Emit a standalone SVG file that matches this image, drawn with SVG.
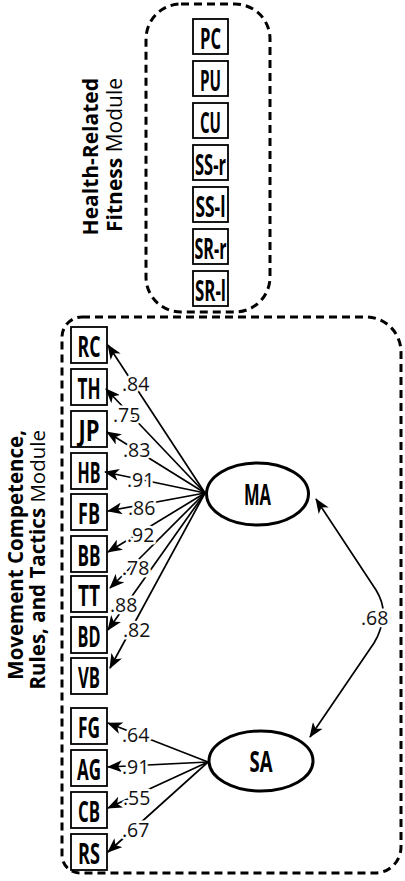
<svg xmlns="http://www.w3.org/2000/svg" width="405" height="881" viewBox="0 0 405 881">
<defs>
<marker id="ah" markerWidth="15" markerHeight="12" refX="14" refY="6" orient="auto-start-reverse" markerUnits="userSpaceOnUse"><path d="M0,0 L15,6 L0,12 L4,6 z" fill="#000"/></marker>
<style>
.module{fill:none;stroke:#000;stroke-width:3;stroke-dasharray:8 5}
.box{fill:#fff;stroke:#000;stroke-width:1.8}
.lat{fill:#fff;stroke:#000;stroke-width:3}
.bl{font-family:"Open Sans","DejaVu Sans",sans-serif;font-weight:bold;font-size:29px;text-anchor:middle;fill:#000}
.ml{font-family:"Open Sans","DejaVu Sans",sans-serif;font-size:21px;fill:#000;text-anchor:end}
.ms{font-size:20.5px}
.b{font-weight:bold}
.c{fill:none;stroke:#000;stroke-width:1.7;marker-end:url(#ah)}
.lb{font-family:"Open Sans","DejaVu Sans",sans-serif;font-size:19.5px;fill:#111;stroke:#fff;stroke-width:5;paint-order:stroke;stroke-linejoin:round}
</style>
</defs>
<rect width="405" height="881" fill="#fff"/>

<g id="health-module">
<rect class="module" x="146" y="4" width="124" height="308" rx="35"/>
<text class="ml" transform="translate(98,78) rotate(-90)"><tspan class="b">Health-Related</tspan></text>
<text class="ml" transform="translate(122,78) rotate(-90)"><tspan class="b">Fitness</tspan> Module</text>
</g>

<g id="movement-module">
<path class="module" d="M82,317 H366 A35,35 0 0 1 401,352 V847 A26,26 0 0 1 375,873 H80 A18,18 0 0 1 62,855 V337 A20,20 0 0 1 82,317 Z"/>
<text class="ml ms" transform="translate(22.5,430) rotate(-90)"><tspan class="b">Movement Competence,</tspan></text>
<text class="ml ms" transform="translate(44.5,430) rotate(-90)"><tspan class="b">Rules, and Tactics</tspan> Module</text>
</g>

<g id="PC"><rect class="box" x="193" y="19" width="35" height="35"/><text class="bl" x="210.5" y="49" textLength="21" lengthAdjust="spacingAndGlyphs">PC</text></g>
<g id="PU"><rect class="box" x="193" y="61" width="35" height="35"/><text class="bl" x="210.5" y="91" textLength="21" lengthAdjust="spacingAndGlyphs">PU</text></g>
<g id="CU"><rect class="box" x="193" y="103" width="35" height="35"/><text class="bl" x="210.5" y="133" textLength="21" lengthAdjust="spacingAndGlyphs">CU</text></g>
<g id="SS-r"><rect class="box" x="193" y="145" width="35" height="35"/><text class="bl" x="210.5" y="175" textLength="31" lengthAdjust="spacingAndGlyphs">SS-r</text></g>
<g id="SS-l"><rect class="box" x="193" y="187" width="35" height="35"/><text class="bl" x="210.5" y="217" textLength="30" lengthAdjust="spacingAndGlyphs">SS-l</text></g>
<g id="SR-r"><rect class="box" x="193" y="229" width="35" height="35"/><text class="bl" x="210.5" y="259" textLength="32" lengthAdjust="spacingAndGlyphs">SR-r</text></g>
<g id="SR-l"><rect class="box" x="193" y="271" width="35" height="35"/><text class="bl" x="210.5" y="301" textLength="31" lengthAdjust="spacingAndGlyphs">SR-l</text></g>

<g id="RC"><rect class="box" x="71" y="327" width="36" height="36"/><text class="bl" x="89" y="357" textLength="23" lengthAdjust="spacingAndGlyphs">RC</text></g>
<g id="TH"><rect class="box" x="71" y="369" width="36" height="36"/><text class="bl" x="89" y="399" textLength="23" lengthAdjust="spacingAndGlyphs">TH</text></g>
<g id="JP"><rect class="box" x="71" y="411" width="36" height="36"/><text class="bl" x="89" y="441" textLength="21" lengthAdjust="spacingAndGlyphs">JP</text></g>
<g id="HB"><rect class="box" x="71" y="453" width="36" height="36"/><text class="bl" x="89" y="483" textLength="23" lengthAdjust="spacingAndGlyphs">HB</text></g>
<g id="FB"><rect class="box" x="71" y="494" width="36" height="36"/><text class="bl" x="89" y="524" textLength="22" lengthAdjust="spacingAndGlyphs">FB</text></g>
<g id="BB"><rect class="box" x="71" y="536" width="36" height="36"/><text class="bl" x="89" y="566" textLength="23" lengthAdjust="spacingAndGlyphs">BB</text></g>
<g id="TT"><rect class="box" x="71" y="576" width="36" height="36"/><text class="bl" x="89" y="606" textLength="22" lengthAdjust="spacingAndGlyphs">TT</text></g>
<g id="BD"><rect class="box" x="71" y="617" width="36" height="36"/><text class="bl" x="89" y="647" textLength="23" lengthAdjust="spacingAndGlyphs">BD</text></g>
<g id="VB"><rect class="box" x="71" y="658" width="36" height="36"/><text class="bl" x="89" y="688" textLength="22" lengthAdjust="spacingAndGlyphs">VB</text></g>
<g id="FG"><rect class="box" x="71" y="708" width="36" height="36"/><text class="bl" x="89" y="738" textLength="22" lengthAdjust="spacingAndGlyphs">FG</text></g>
<g id="AG"><rect class="box" x="71" y="750" width="36" height="36"/><text class="bl" x="89" y="780" textLength="24" lengthAdjust="spacingAndGlyphs">AG</text></g>
<g id="CB"><rect class="box" x="71" y="792" width="36" height="36"/><text class="bl" x="89" y="822" textLength="22" lengthAdjust="spacingAndGlyphs">CB</text></g>
<g id="RS"><rect class="box" x="71" y="834" width="36" height="36"/><text class="bl" x="89" y="864" textLength="22" lengthAdjust="spacingAndGlyphs">RS</text></g>

<g id="connectors">
<line class="c" x1="205" y1="493" x2="108" y2="345"/>
<line class="c" x1="205" y1="493" x2="106" y2="389"/>
<line class="c" x1="205" y1="493" x2="107" y2="432"/>
<line class="c" x1="205" y1="493" x2="105" y2="472"/>
<line class="c" x1="205" y1="493" x2="108" y2="511"/>
<line class="c" x1="205" y1="493" x2="108" y2="552"/>
<line class="c" x1="205" y1="493" x2="110" y2="588"/>
<line class="c" x1="205" y1="493" x2="108" y2="630"/>
<line class="c" x1="205" y1="493" x2="110" y2="668"/>
<line class="c" x1="208" y1="762" x2="108" y2="723"/>
<line class="c" x1="208" y1="762" x2="108" y2="767"/>
<line class="c" x1="208" y1="762" x2="108" y2="808"/>
<line class="c" x1="208" y1="762" x2="108" y2="852"/>
<path class="c" style="marker-start:url(#ah)" d="M316,499 L376,590 Q384,603 383,615 Q382,630 374,643 L310,737"/>
<text class="lb" x="122" y="391">.84</text>
<text class="lb" x="113" y="422">.75</text>
<text class="lb" x="123" y="457">.83</text>
<text class="lb" x="127" y="487">.91</text>
<text class="lb" x="128" y="515">.86</text>
<text class="lb" x="127" y="542">.92</text>
<text class="lb" x="122" y="575">.78</text>
<text class="lb" x="110" y="612">.88</text>
<text class="lb" x="123" y="637">.82</text>
<text class="lb" x="122" y="742">.64</text>
<text class="lb" x="122" y="774">.91</text>
<text class="lb" x="123" y="805">.55</text>
<text class="lb" x="122" y="837">.67</text>
<text class="lb" x="361" y="625">.68</text>
</g>

<g id="MA"><ellipse class="lat" cx="257.5" cy="494" rx="51" ry="31"/><text class="bl" x="257.5" y="504.5" textLength="27" lengthAdjust="spacingAndGlyphs">MA</text></g>
<g id="SA"><ellipse class="lat" cx="261" cy="761" rx="52" ry="30"/><text class="bl" x="261" y="771.5" textLength="23" lengthAdjust="spacingAndGlyphs">SA</text></g>
</svg>
